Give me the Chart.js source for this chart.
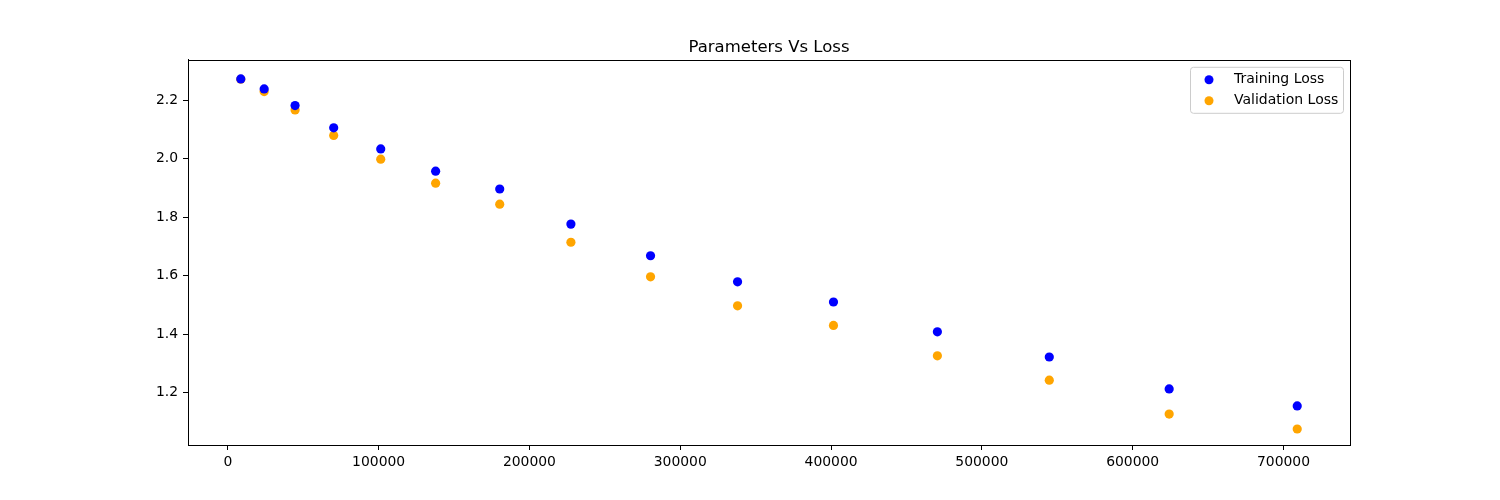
<!DOCTYPE html>
<html>
<head>
<meta charset="utf-8">
<script src="https://cdn.jsdelivr.net/npm/chart.js@4"></script>
<style>
  html, body { margin: 0; padding: 0; background: #fff; }
  #wrap { width: 1500px; height: 500px; }
</style>
</head>
<body>
<div id="wrap"><canvas id="chart" width="1500" height="500"></canvas></div>
<script>
// values
const params = [8600, 24100, 44600, 70200, 101400, 137800, 180300, 227500, 280300, 338000, 401600, 470500, 544700, 624200, 709100];
const trainLoss = [2.272, 2.238, 2.181, 2.105, 2.033, 1.957, 1.896, 1.776, 1.668, 1.579, 1.510, 1.408, 1.322, 1.213, 1.155];
const valLoss = [2.271, 2.229, 2.166, 2.079, 1.998, 1.916, 1.844, 1.714, 1.596, 1.497, 1.430, 1.326, 1.243, 1.127, 1.076];
const xTicks = [0, 100000, 200000, 300000, 400000, 500000, 600000, 700000];
const yTicks = [1.2, 1.4, 1.6, 1.8, 2.0, 2.2];
const seriesNames = ["Training Loss", "Validation Loss"];
const chartTitle = "Parameters Vs Loss";

const FONT = "'DejaVu Sans', sans-serif";

function toPoints(xs, ys){
  return xs.map((x, i) => ({ x, y: ys[i] }));
}

// full box around the axes, like matplotlib
const frame = {
  id: 'frame',
  afterDatasetsDraw(chart){
    const { ctx, chartArea: a } = chart;
    ctx.save();
    ctx.strokeStyle = '#000';
    ctx.lineWidth = 1;
    ctx.strokeRect(Math.round(a.left) + 0.5, Math.round(a.top) + 0.5, Math.round(a.right - a.left), Math.round(a.bottom - a.top));
    ctx.restore();
  }
};

// boxed legend in the top right corner of the plot
const boxLegend = {
  id: 'boxLegend',
  afterDraw(chart){
    const { ctx, chartArea: a } = chart;
    const w = 153, h = 46;
    const x = a.right - 7 - w, y = a.top + 7;
    ctx.save();
    ctx.fillStyle = 'rgba(255,255,255,0.8)';
    ctx.strokeStyle = '#cccccc';
    ctx.lineWidth = 1;
    ctx.beginPath();
    ctx.roundRect(x + 0.5, y + 0.5, w, h, 3);
    ctx.fill();
    ctx.stroke();
    ctx.font = '14px ' + FONT;
    ctx.textBaseline = 'middle';
    chart.data.datasets.forEach((ds, i) => {
      const cy = y + 13 + i * 21;
      ctx.fillStyle = ds.backgroundColor;
      ctx.beginPath();
      ctx.arc(x + 19, cy, 4.5, 0, Math.PI * 2);
      ctx.fill();
      ctx.fillStyle = '#000';
      ctx.fillText(ds.label, x + 44, cy);
    });
    ctx.restore();
  }
};

new Chart(document.getElementById('chart'), {
  type: 'scatter',
  data: {
    datasets: [
      { label: seriesNames[0], data: toPoints(params, trainLoss), backgroundColor: '#0000ff', borderWidth: 0, pointRadius: 4.6 },
      { label: seriesNames[1], data: toPoints(params, valLoss), backgroundColor: '#ffa500', borderWidth: 0, pointRadius: 4.6 }
    ]
  },
  options: {
    responsive: false,
    animation: false,
    devicePixelRatio: 1,
    layout: { padding: { left: 0, right: 150, top: 0, bottom: 0 } },
    plugins: {
      legend: { display: false },
      tooltip: { enabled: false },
      title: {
        display: true,
        text: chartTitle,
        fullSize: false,
        color: '#000',
        font: { family: FONT, size: 16.5, weight: 'normal', lineHeight: 1.2 },
        padding: { top: 38, bottom: 2 }
      }
    },
    scales: {
      x: {
        type: 'linear',
        min: -26400,
        max: 744100,
        afterFit(s){ s.height = 55; },
        afterBuildTicks(s){ s.ticks = xTicks.map(v => ({ value: v })); },
        border: { display: true, color: '#000', width: 1 },
        grid: { display: true, drawOnChartArea: false, drawTicks: true, tickLength: 5, color: '#000' },
        ticks: {
          maxRotation: 0,
          autoSkip: false,
          padding: 4,
          color: '#000',
          font: { family: FONT, size: 13.9 },
          callback: v => Math.round(v).toString()
        }
      },
      y: {
        type: 'linear',
        min: 1.0214,
        max: 2.3374,
        afterFit(s){ s.width = 188; },
        afterBuildTicks(s){ s.ticks = yTicks.map(v => ({ value: v })); },
        border: { display: true, color: '#000', width: 1 },
        grid: { display: true, drawOnChartArea: false, drawTicks: true, tickLength: 5, color: '#000' },
        ticks: {
          padding: 5,
          color: '#000',
          font: { family: FONT, size: 13.9 },
          callback: v => v.toFixed(1)
        }
      }
    }
  },
  plugins: [frame, boxLegend]
});
</script>
</body>
</html>
